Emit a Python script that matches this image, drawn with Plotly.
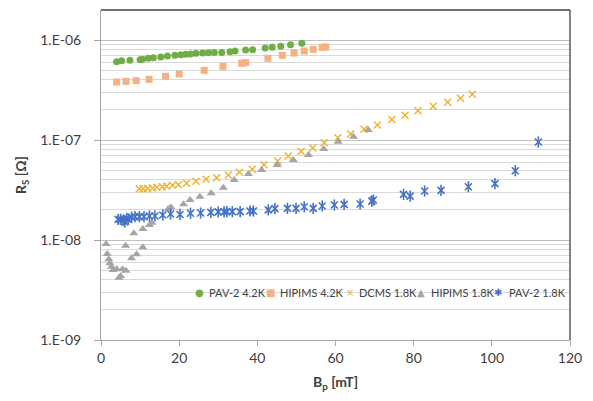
import plotly.graph_objects as go

# ---------------- data (Bp in mT, Rs in Ohm) ----------------
pav2_42_bp = [4.0, 5.3, 7.4, 10.0, 10.6, 12.1, 13.4, 15.3, 17.0, 18.9, 20.4, 21.7, 22.9, 24.3,
              26.0, 27.5, 29.0, 30.9, 33.0, 34.3, 37.0, 38.8, 42.0, 43.8, 46.0, 48.5, 51.4]
pav2_42_rs = [6.07e-7, 6.21e-7, 6.26e-7, 6.36e-7, 6.41e-7, 6.56e-7, 6.66e-7, 6.76e-7, 6.92e-7,
              7.03e-7, 7.14e-7, 7.19e-7, 7.24e-7, 7.35e-7, 7.41e-7, 7.47e-7, 7.52e-7, 7.52e-7,
              7.64e-7, 7.76e-7, 7.94e-7, 8.00e-7, 8.32e-7, 8.45e-7, 8.64e-7, 8.98e-7, 9.26e-7]

hipims_42_bp = [4.0, 6.4, 9.0, 12.3, 16.5, 20.0, 26.4, 31.2, 36.0, 37.0, 42.7, 46.4, 49.4,
                52.0, 54.3, 56.6, 57.5]
hipims_42_rs = [3.80e-7, 3.86e-7, 3.92e-7, 4.04e-7, 4.33e-7, 4.57e-7, 4.97e-7, 5.45e-7, 5.85e-7,
                5.94e-7, 6.56e-7, 7.03e-7, 7.41e-7, 7.76e-7, 8.07e-7, 8.45e-7, 8.51e-7]

dcms_18_bp = [9.8, 10.8, 11.9, 13.2, 14.3, 15.7, 16.8, 18.3, 19.8, 21.9, 24.3, 26.9, 29.6, 32.6,
              35.4, 38.7, 41.7, 45.2, 47.9, 51.2, 54.2, 57.1, 60.6, 63.9, 67.3, 70.7, 74.4, 77.8,
              81.1, 85.0, 88.7, 92.0, 95.0]
dcms_18_rs = [3.26e-8, 3.26e-8, 3.28e-8, 3.31e-8, 3.36e-8, 3.41e-8, 3.44e-8, 3.52e-8, 3.57e-8,
              3.69e-8, 3.86e-8, 4.04e-8, 4.20e-8, 4.47e-8, 4.75e-8, 5.09e-8, 5.66e-8, 6.17e-8,
              6.92e-8, 7.71e-8, 8.32e-8, 9.40e-8, 1.055e-7, 1.15e-7, 1.28e-7, 1.41e-7, 1.60e-7,
              1.77e-7, 1.96e-7, 2.17e-7, 2.38e-7, 2.61e-7, 2.86e-7]

hipims_18_bp = [1.3, 1.6, 2.0, 2.3, 2.7, 3.1, 4.0, 4.6, 5.0, 5.5, 6.3, 6.4, 7.8, 8.4, 9.1, 10.7,
                10.7, 12.4, 13.0, 17.2, 17.9, 21.1, 22.8, 25.3, 28.2, 31.3, 34.1, 37.7, 41.1,
                45.1, 49.2, 53.1, 57.0, 60.7, 64.6, 68.4]
hipims_18_rs = [9.12e-9, 7.24e-9, 6.41e-9, 5.85e-9, 5.41e-9, 5.01e-9, 5.13e-9, 4.20e-9, 4.37e-9,
                5.10e-9, 8.77e-9, 4.93e-9, 6.56e-9, 1.17e-8, 7.19e-9, 8.45e-9, 1.29e-8, 1.41e-8,
                1.49e-8, 2.04e-8, 2.12e-8, 2.28e-8, 2.51e-8, 2.71e-8, 2.93e-8, 3.34e-8, 3.98e-8,
                4.57e-8, 5.01e-8, 5.62e-8, 6.31e-8, 7.08e-8, 8.13e-8, 9.62e-8, 1.08e-7, 1.26e-7]

pav2_18_bp = [4.4, 5.0, 5.7, 6.1, 6.6, 7.0, 7.8, 8.7, 9.8, 11.0, 12.4, 13.8, 15.8, 17.8, 20.2,
              22.9, 25.5, 28.1, 30.0, 31.5, 32.2, 33.6, 35.6, 38.1, 39.0, 42.8, 44.5, 47.7, 49.9,
              52.0, 54.3, 56.6, 59.7, 62.2, 66.3, 69.3, 69.7, 77.4, 79.1, 82.8, 87.0, 94.0,
              100.8, 106.0, 111.9]
pav2_18_rs = [1.61e-8, 1.61e-8, 1.58e-8, 1.52e-8, 1.65e-8, 1.61e-8, 1.69e-8, 1.71e-8, 1.71e-8,
              1.71e-8, 1.74e-8, 1.74e-8, 1.78e-8, 1.82e-8, 1.80e-8, 1.85e-8, 1.86e-8, 1.89e-8,
              1.91e-8, 1.91e-8, 1.92e-8, 1.92e-8, 1.92e-8, 1.95e-8, 1.95e-8, 2.00e-8, 2.06e-8,
              2.07e-8, 2.07e-8, 2.15e-8, 2.07e-8, 2.19e-8, 2.24e-8, 2.27e-8, 2.29e-8, 2.45e-8,
              2.51e-8, 2.86e-8, 2.75e-8, 3.09e-8, 3.14e-8, 3.41e-8, 3.66e-8, 4.93e-8, 9.55e-8]

series_names = ["PAV-2 4.2K", "HIPIMS 4.2K", "DCMS 1.8K", "HIPIMS 1.8K", "PAV-2 1.8K"]
legend_glyphs = ["●", "■", "×", "▲", "✱"]

x_ticks = [0, 20, 40, 60, 80, 100, 120]
y_major = [1e-9, 1e-8, 1e-7, 1e-6]
y_major_text = ["1.E-09", "1.E-08", "1.E-07", "1.E-06"]
y_minor = [m * d for d in (1e-9, 1e-8, 1e-7) for m in range(2, 10)]

# ---------------- styles ----------------
C_GREEN = "#70AD47"
C_SALMON = "#F4B183"
C_GOLD = "#EEB22E"
C_GRAY = "#A5A5A5"
C_BLUE = "#4472C4"
FONT = "Lato, 'Noto Sans', sans-serif"

fig = go.Figure()
fig.add_trace(go.Scatter(x=pav2_42_bp, y=pav2_42_rs, mode="markers", name=series_names[0],
                         marker=dict(symbol="circle", size=7, color=C_GREEN)))
fig.add_trace(go.Scatter(x=hipims_42_bp, y=hipims_42_rs, mode="markers", name=series_names[1],
                         marker=dict(symbol="square", size=7, color=C_SALMON)))
fig.add_trace(go.Scatter(x=dcms_18_bp, y=dcms_18_rs, mode="markers", name=series_names[2],
                         marker=dict(symbol="x-thin-open", size=7, color=C_GOLD,
                                     line=dict(color=C_GOLD, width=1.4))))
fig.add_trace(go.Scatter(x=hipims_18_bp, y=hipims_18_rs, mode="markers", name=series_names[3],
                         marker=dict(symbol="triangle-up", size=8, color=C_GRAY)))
fig.add_trace(go.Scatter(x=pav2_18_bp, y=pav2_18_rs, mode="markers", name=series_names[4],
                         marker=dict(symbol="x-thin-open", size=7, color=C_BLUE,
                                     line=dict(color=C_BLUE, width=1.6))))
fig.add_trace(go.Scatter(x=pav2_18_bp, y=pav2_18_rs, mode="markers", showlegend=False,
                         hoverinfo="skip",
                         marker=dict(symbol="line-ns-open", size=8, color=C_BLUE,
                                     line=dict(color=C_BLUE, width=1.6))))

# compact legend drawn as text (glyph + label per series)
colors = [C_GREEN, C_SALMON, C_GOLD, C_GRAY, C_BLUE]
glyph_px = [199, 270.5, 350, 420.5, 498]
text_px = [206.5, 277.5, 356.5, 428.5, 506.5]
PL, PW = 101, 469
annotations = []
for g, c, n, gx, tx in zip(legend_glyphs, colors, series_names, glyph_px, text_px):
    annotations.append(dict(text=g, xref="paper", yref="paper", x=(gx - PL) / PW, y=0.145,
                            xanchor="center", yanchor="middle", showarrow=False,
                            font=dict(size=10, color=c, family="DejaVu Sans")))
    annotations.append(dict(text=n, xref="paper", yref="paper", x=(tx - PL) / PW, y=0.145,
                            xanchor="left", yanchor="middle", showarrow=False,
                            font=dict(size=11, color="#404040", family=FONT)))

fig.update_layout(
    width=593, height=401,
    margin=dict(l=101, r=23, t=10, b=61),
    paper_bgcolor="white", plot_bgcolor="white",
    showlegend=False,
    font=dict(family=FONT, color="#404040", size=14),
    xaxis=dict(range=[0, 120], tickvals=x_ticks, showgrid=False, zeroline=False,
               showline=True, linecolor="#A6A6A6", linewidth=1,
               ticks="outside", ticklen=5, tickcolor="#A6A6A6",
               tickfont=dict(size=14, color="#404040"),
               title=dict(text="<b>B<sub>p</sub> [mT]</b>", font=dict(size=14, color="#404040"),
                          standoff=12)),
    yaxis=dict(type="log", range=[-9, -5.7], tickmode="array", tickvals=y_major,
               ticktext=y_major_text, showgrid=True, gridcolor="#BFBFBF", gridwidth=1.4,
               zeroline=False, showline=True, linecolor="#A6A6A6", linewidth=1,
               ticks="outside", ticklen=6, tickcolor="#A6A6A6", ticklabelstandoff=10,
               tickfont=dict(size=14, color="#404040"),
               minor=dict(tickmode="array", tickvals=y_minor, showgrid=True,
                          gridcolor="#D9D9D9", gridwidth=1, ticks=""),
               title=dict(text="<b>R<sub>S</sub> [Ω]</b>", font=dict(size=14, color="#404040"),
                          standoff=10)),
    shapes=[
        dict(type="rect", xref="paper", yref="paper", x0=0.19, x1=0.985, y0=0.075, y1=0.267,
             fillcolor="white", line=dict(width=0), layer="between"),
        dict(type="line", xref="paper", yref="paper", x0=0, x1=1, y0=1, y1=1,
             line=dict(color="#404040", width=1.3)),
        dict(type="line", xref="paper", yref="paper", x0=1, x1=1, y0=0, y1=1,
             line=dict(color="#404040", width=1.3)),
    ],
    annotations=annotations,
)

fig.write_html("out.html", config={"displayModeBar": False},
               post_script="document.body.style.margin='0px';")
